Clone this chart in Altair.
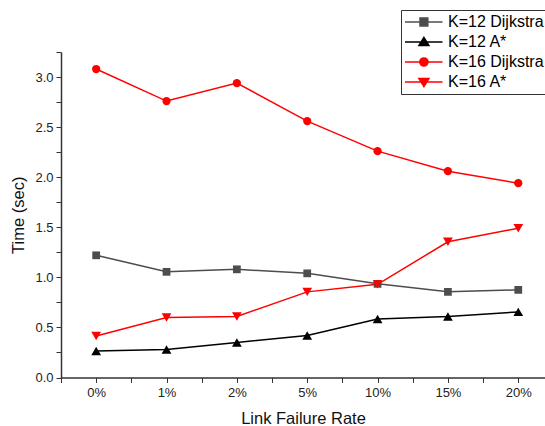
import altair as alt
import pandas as pd

categories = ["0%", "1%", "2%", "5%", "10%", "15%", "20%"]
series_names = ["K=12 Dijkstra", "K=12 A*", "K=16 Dijkstra", "K=16 A*"]
k12_dijkstra = [1.22, 1.055, 1.08, 1.04, 0.935, 0.855, 0.875]
k12_astar = [0.265, 0.28, 0.35, 0.42, 0.585, 0.61, 0.655]
k16_dijkstra = [3.08, 2.76, 2.94, 2.56, 2.26, 2.06, 1.94]
k16_astar = [0.415, 0.60, 0.61, 0.855, 0.93, 1.355, 1.49]

series_values = [k12_dijkstra, k12_astar, k16_dijkstra, k16_astar]
series_colors = ["#4d4d4d", "#000000", "#ff0000", "#ff0000"]
marker_shapes = ["square", "triangle-up", "circle", "triangle-down"]
marker_sizes = [60, 95, 68, 95]

# legend symbols: short line with marker in the middle (unit coords, scaled by sqrt(size)/2)
LINE = "M-1.6,0H5.9"
legend_paths = [
    LINE + "M1.4,-0.78H2.96V0.78H1.4Z",
    LINE + "M2.18,-0.9L3.18,0.72L1.18,0.72Z",
    LINE + "M3.0,0A0.82,0.82,0,1,1,1.36,0A0.82,0.82,0,1,1,3.0,0Z",
    LINE + "M2.18,0.9L3.18,-0.72L1.18,-0.72Z",
]

rows = []
for name, vals in zip(series_names, series_values):
    for i, (cat, v) in enumerate(zip(categories, vals)):
        rows.append({"series": name, "idx": i, "rate": cat, "time": v})
df = pd.DataFrame(rows)

FONT = "Liberation Sans"
label_array = "[" + ",".join("'" + c + "'" for c in categories) + "]"

x_enc = alt.X(
    "idx:Q",
    scale=alt.Scale(domain=[-0.5, len(categories) - 0.62], nice=False, zero=False),
    axis=alt.Axis(
        title="Link Failure Rate",
        values=[i * 0.5 - 0.5 for i in range(2 * len(categories) + 1)],
        labelExpr=f"(datum.value % 1 == 0) ? {label_array}[datum.value] : ''",
        grid=False,
        tickSize=5,
        labelPadding=4,
        titlePadding=11,
    ),
)
y_enc = alt.Y(
    "time:Q",
    scale=alt.Scale(domain=[0, 3.25], nice=False),
    axis=alt.Axis(
        title="Time (sec)",
        values=[i * 0.25 for i in range(14)],
        labelExpr="((datum.value * 4) % 2 == 0) ? format(datum.value, '.1f') : ''",
        grid=False,
        tickSize=5,
        labelPadding=3,
        titlePadding=8,
    ),
)

layers = []
for name, col in zip(series_names, series_colors):
    layers.append(
        alt.Chart(df)
        .transform_filter(alt.datum.series == name)
        .mark_line(strokeWidth=1.5, color=col)
        .encode(x=x_enc, y=y_enc)
    )
for name, col, shp, sz in zip(series_names, series_colors, marker_shapes, marker_sizes):
    layers.append(
        alt.Chart(df)
        .transform_filter(alt.datum.series == name)
        .mark_point(shape=shp, filled=True, size=sz, opacity=1, color=col)
        .encode(x=x_enc, y=y_enc)
    )

leg = alt.Legend(
    title=None,
    orient="none",
    legendX=340,
    legendY=-42,
    labelFont=FONT,
    labelFontSize=16,
    labelColor="#000000",
    labelOffset=27,
    padding=4,
    rowPadding=4,
    strokeColor="#333333",
    fillColor="#ffffff",
    symbolSize=100,
    symbolStrokeWidth=1.5,
)

legend_layer = (
    alt.Chart(df)
    .transform_filter("false")
    .mark_point(filled=True, opacity=1, size=100, strokeWidth=1.5)
    .encode(
        x=x_enc, y=y_enc,
        color=alt.Color("series:N", scale=alt.Scale(domain=series_names, range=series_colors), legend=leg),
        stroke=alt.Stroke("series:N", scale=alt.Scale(domain=series_names, range=series_colors), legend=leg),
        shape=alt.Shape("series:N", scale=alt.Scale(domain=series_names, range=legend_paths), legend=leg),
    )
)
layers.append(legend_layer)

chart = (
    alt.layer(*layers)
    .properties(
        width=484,
        height=325.5,
        autosize=alt.AutoSizeParams(type="none"),
        padding={"left": 61, "top": 52, "right": 0, "bottom": 48.5},
        background="white",
    )
    .configure_view(stroke=None)
    .configure_axis(
        domainColor="#333333",
        domainWidth=1.5,
        tickColor="#333333",
        tickWidth=1,
        labelFont=FONT,
        labelFontSize=13,
        labelColor="#222222",
        titleFont=FONT,
        titleFontSize=16.5,
        titleFontWeight="normal",
        titleColor="#111111",
    )
)

chart.save("out.html", embed_options={"renderer": "svg", "actions": False})
